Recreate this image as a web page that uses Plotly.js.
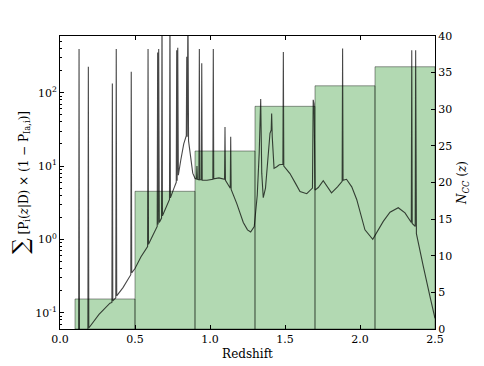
<!DOCTYPE html>
<html>
<head>
<meta charset="utf-8">
<script src="https://cdn.plot.ly/plotly-3.0.1.min.js"></script>
<style>
  html, body { margin: 0; padding: 0; background: #fff; }
  #chart { width: 484px; height: 366px; }
</style>
</head>
<body>
<div id="chart"></div>
<script>
// histogram of core-collapse counts per redshift bin (right axis)
const binCenters = [0.3, 0.7, 1.1, 1.5, 1.9, 2.3];
const binWidth = 0.4;
const nCC = [4.1, 18.8, 24.3, 30.4, 33.2, 35.8];

// log axis ticks
const logTickVals = [0.1, 1, 10, 100];
const logTickText = ["10<sup>-1</sup>", "10<sup>0</sup>", "10<sup>1</sup>", "10<sup>2</sup>"];
const logMinorVals = [
  0.07, 0.08, 0.09,
  0.2, 0.3, 0.4, 0.5, 0.6, 0.7, 0.8, 0.9,
  2, 3, 4, 5, 6, 7, 8, 9,
  20, 30, 40, 50, 60, 70, 80, 90,
  200, 300, 400, 500
];

// summed probability curve (left, log axis)
const zVals = [
  0.100, 0.124, 0.127, 0.130, 0.186, 0.189, 0.192, 0.260, 0.333, 0.346,
  0.349, 0.352, 0.372, 0.375, 0.378, 0.420, 0.472, 0.475, 0.478, 0.500,
  0.540, 0.584, 0.587, 0.590, 0.620, 0.648, 0.651, 0.654, 0.658, 0.662,
  0.677, 0.680, 0.683, 0.710, 0.730, 0.733, 0.736, 0.760, 0.775, 0.778,
  0.781, 0.785, 0.789, 0.805, 0.825, 0.842, 0.845, 0.848, 0.853, 0.857,
  0.870, 0.885, 0.900, 0.910, 0.913, 0.916, 0.926, 0.929, 0.932, 0.942,
  0.945, 0.948, 0.980, 1.019, 1.022, 1.025, 1.060, 1.097, 1.100, 1.103,
  1.120, 1.135, 1.138, 1.141, 1.178, 1.222, 1.250, 1.271, 1.295, 1.315,
  1.328, 1.338, 1.345, 1.355, 1.370, 1.385, 1.400, 1.408, 1.411, 1.415,
  1.427, 1.445, 1.462, 1.486, 1.489, 1.492, 1.533, 1.570, 1.600, 1.645,
  1.678, 1.683, 1.688, 1.694, 1.700, 1.722, 1.755, 1.785, 1.810, 1.850,
  1.881, 1.884, 1.887, 1.910, 1.945, 1.978, 2.033, 2.085, 2.120, 2.155,
  2.200, 2.255, 2.300, 2.333, 2.342, 2.345, 2.348, 2.368, 2.371, 2.376,
  2.382, 2.422, 2.467, 2.500
];
const sumP = [
  0.012, 0.022, 395, 0.025, 0.055, 226, 0.062, 0.095, 0.135, 0.138,
  134, 0.145, 0.16, 395, 0.17, 0.22, 0.33, 193, 0.35, 0.40,
  0.58, 0.80, 395, 0.86, 1.15, 1.5, 352, 1.6, 395, 1.7,
  1.95, 1500, 2.1, 2.9, 3.5, 1500, 3.7, 5.0, 6.0, 380,
  6.3, 410, 7.5, 12, 20, 26, 309, 25, 1500, 22,
  13, 8, 6.8, 6.6, 10, 6.6, 6.5, 395, 6.5, 6.5,
  252, 6.4, 6.4, 6.6, 395, 6.7, 6.9, 6.6, 34, 6.4,
  5.6, 5.0, 25, 4.8, 3.1, 1.7, 1.35, 1.26, 1.5, 4,
  15, 82, 8, 3.7, 5, 12, 28, 31, 52, 25,
  9.3, 9.8, 10.4, 10.6, 360, 10, 7.9, 5.8, 4.5, 4.2,
  4.9, 5.0, 80, 70, 4.7, 5.1, 6.3, 5.2, 4.3, 5.2,
  6.2, 400, 6.4, 6.6, 5.2, 3.5, 1.35, 1.0, 1.3, 1.76,
  2.35, 2.7, 2.3, 1.76, 1.7, 380, 1.65, 1.5, 380, 1.2,
  1.04, 0.43, 0.165, 0.084
];

const bars = {
  x: binCenters,
  y: nCC,
  width: binWidth,
  type: "bar",
  xaxis: "x",
  yaxis: "y",
  marker: {
    color: "rgba(0,128,0,0.3)",
    line: { color: "rgba(0,0,0,0.4)", width: 1 },
  },
  hoverinfo: "skip",
};

const curve = {
  x: zVals,
  y: sumP,
  type: "scatter",
  mode: "lines",
  xaxis: "x",
  yaxis: "y2",
  line: { color: "rgba(0,0,0,0.72)", width: 1.1 },
  hoverinfo: "skip",
};

const layout = {
  width: 484,
  height: 366,
  margin: { l: 60, r: 49, t: 36, b: 37 },
  paper_bgcolor: "#fff",
  plot_bgcolor: "#fff",
  showlegend: false,
  font: { family: "DejaVu Serif", size: 11, color: "#000" },
  bargap: 0,
  xaxis: {
    range: [0, 2.5],
    dtick: 0.5,
    tickformat: ".1f",
    ticks: "inside",
    ticklen: 4,
    tickcolor: "#000",
    showline: true,
    linecolor: "#000",
    linewidth: 1,
    mirror: "ticks",
    showgrid: false,
    zeroline: false,
    title: { text: "Redshift", font: { family: "DejaVu Serif", size: 12 }, standoff: 4 },
  },
  yaxis: {
    range: [0, 40],
    dtick: 5,
    side: "right",
    ticks: "inside",
    ticklen: 4,
    tickcolor: "#000",
    showline: true,
    linecolor: "#000",
    linewidth: 1,
    showgrid: false,
    zeroline: false,
    title: {
      text: "<i>N</i><sub><i>CC</i></sub> (<i>z</i>)",
      font: { family: "DejaVu Serif", size: 12 },
      standoff: 6,
    },
  },
  yaxis2: {
    overlaying: "y",
    side: "left",
    type: "log",
    range: [Math.log10(0.06), Math.log10(593)],
    tickmode: "array",
    tickvals: logTickVals,
    ticktext: logTickText,
    ticks: "inside",
    ticklen: 4,
    tickcolor: "#000",
    minor: {
      tickmode: "array",
      tickvals: logMinorVals,
      ticks: "inside",
      ticklen: 2,
      tickcolor: "#000",
      showgrid: false,
    },
    showline: true,
    linecolor: "#000",
    linewidth: 1,
    showgrid: false,
    zeroline: false,
    title: {
      text: '<span style="font-size:22px">∑</span> [P<sub>i</sub>(<i>z</i>|D) × (1 − P<sub>Ia,i</sub>)]',
      font: { family: "DejaVu Serif", size: 12 },
      standoff: 4,
    },
  },
};

Plotly.newPlot("chart", [bars, curve], layout, { staticPlot: true, displayModeBar: false });
</script>
</body>
</html>
